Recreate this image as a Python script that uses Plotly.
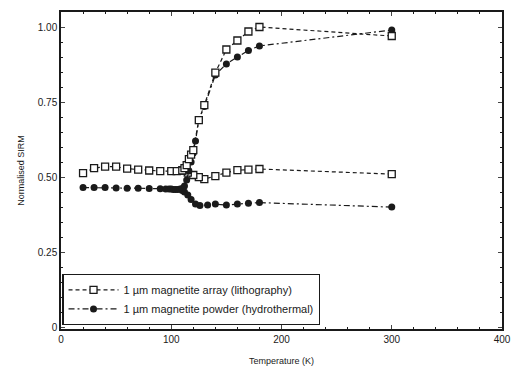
import plotly.graph_objects as go

# 1 um magnetite array (lithography) - squares
arr_warm_T = [20, 30, 40, 50, 60, 70, 80, 90, 100, 105, 110, 112, 114, 116, 118, 120, 125, 130, 140, 150, 160, 170, 180, 300]
arr_warm_S = [0.513, 0.530, 0.535, 0.535, 0.528, 0.525, 0.522, 0.520, 0.520, 0.520, 0.522, 0.530, 0.540, 0.560, 0.575, 0.590, 0.690, 0.740, 0.848, 0.925, 0.955, 0.985, 1.000, 0.970]
arr_cool_T = [300, 180, 170, 160, 150, 140, 130, 125, 120, 115, 110]
arr_cool_S = [0.510, 0.527, 0.525, 0.523, 0.515, 0.503, 0.493, 0.500, 0.507, 0.515, 0.522]

# 1 um magnetite powder (hydrothermal) - circles
pow_warm_T = [20, 30, 40, 50, 60, 70, 80, 90, 95, 98, 100, 102, 104, 106, 108, 110, 112, 114, 116, 118, 120, 122, 125, 130, 140, 150, 160, 170, 180, 300]
pow_warm_S = [0.465, 0.465, 0.465, 0.464, 0.463, 0.463, 0.462, 0.461, 0.460, 0.460, 0.460, 0.459, 0.459, 0.459, 0.460, 0.462, 0.470, 0.490, 0.520, 0.550, 0.580, 0.620, 0.690, 0.735, 0.840, 0.877, 0.900, 0.922, 0.937, 0.990]
pow_cool_T = [300, 180, 170, 160, 150, 140, 133, 126, 122, 118, 115, 112, 110]
pow_cool_S = [0.400, 0.415, 0.413, 0.410, 0.407, 0.410, 0.407, 0.405, 0.410, 0.425, 0.440, 0.450, 0.455]

x_ticks = [0, 100, 200, 300, 400]
y_ticks = [0, 0.25, 0.5, 0.75, 1.0]
y_tick_text = ["0", "0.25", "0.50", "0.75", "1.00"]

ink = "#1a1a1a"
sq_dash = "4px,3px"
ci_dash = "6px,3px,2px,3px"
fig = go.Figure()

sq_marker = dict(symbol="square", size=7, color="white", line=dict(color=ink, width=1.3))
ci_marker = dict(symbol="circle", size=7, color=ink, line=dict(color=ink, width=0))

fig.add_trace(go.Scatter(x=arr_cool_T, y=arr_cool_S, mode="lines+markers", legendgroup="a",
                         showlegend=False, line=dict(color=ink, width=1.2, dash=sq_dash), marker=sq_marker))
fig.add_trace(go.Scatter(x=pow_cool_T, y=pow_cool_S, mode="lines+markers", legendgroup="p",
                         showlegend=False, line=dict(color=ink, width=1.2, dash=ci_dash), marker=ci_marker))
fig.add_trace(go.Scatter(x=pow_warm_T, y=pow_warm_S, mode="lines+markers", legendgroup="p",
                         name="1 µm magnetite powder (hydrothermal)",
                         line=dict(color=ink, width=1.2, dash=ci_dash), marker=ci_marker))
fig.add_trace(go.Scatter(x=arr_warm_T, y=arr_warm_S, mode="lines+markers", legendgroup="a",
                         name="1 µm magnetite array (lithography)",
                         line=dict(color=ink, width=1.2, dash=sq_dash), marker=sq_marker))

fig.update_layout(
    width=520, height=376,
    margin=dict(l=61, r=9, t=12, b=47),
    paper_bgcolor="white", plot_bgcolor="white",
    font=dict(family="Liberation Sans, Arial, sans-serif", color=ink, size=10),
    showlegend=True,
    legend=dict(x=0.003, y=0.012, xanchor="left", yanchor="bottom",
                bgcolor="white", bordercolor=ink, borderwidth=1.2,
                font=dict(size=11), traceorder="reversed",
                tracegroupgap=0, itemwidth=50),
    xaxis=dict(range=[0, 400], tickvals=x_ticks, ticks="inside", ticklen=4,
               showline=True, linecolor=ink, linewidth=1.5, mirror="ticks",
               showgrid=False, zeroline=False, tickfont=dict(size=10),
               minor=dict(dtick=20, ticks="inside", ticklen=2, tickcolor=ink),
               title=dict(text="Temperature (K)", font=dict(size=9), standoff=14)),
    yaxis=dict(range=[-0.006, 1.05], tickvals=y_ticks, ticktext=y_tick_text,
               ticks="inside", ticklen=4,
               showline=True, linecolor=ink, linewidth=1.5, mirror="ticks",
               showgrid=False, zeroline=False, tickfont=dict(size=10),
               minor=dict(dtick=0.05, ticks="inside", ticklen=2, tickcolor=ink),
               title=dict(text="Normalised SIRM", font=dict(size=9), standoff=12)),
)

fig.write_html("out.html")
